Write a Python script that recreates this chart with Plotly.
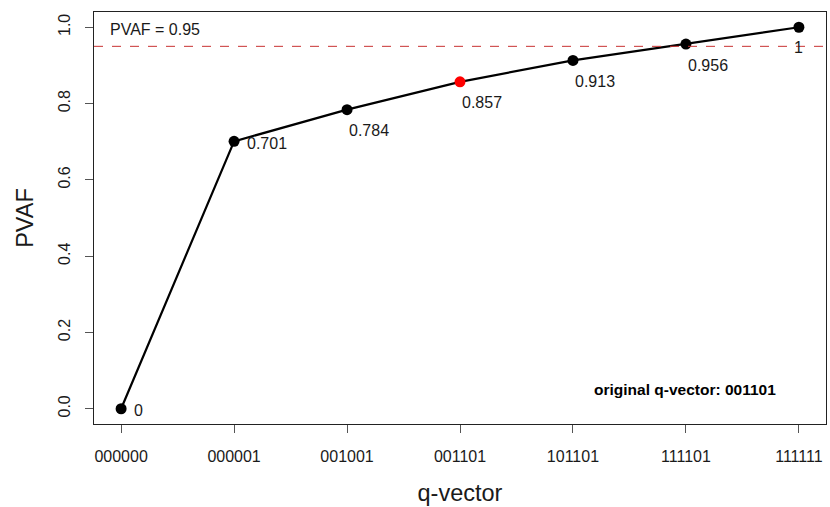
import plotly.graph_objects as go

# PVAF for each q-vector in the search path
q_vectors = ["000000", "000001", "001001", "001101", "101101", "111101", "111111"]
pvaf = [0.0, 0.701, 0.784, 0.857, 0.913, 0.956, 1.0]
value_labels = ["0", "0.701", "0.784", "0.857", "0.913", "0.956", "1"]
selected = "001101"
cutoff = 0.95

idx = list(range(len(q_vectors)))
marker_colors = ["#ff0000" if q == selected else "black" for q in q_vectors]

FONT = "Liberation Sans, Arial, sans-serif"
TXT = "#1a1a1a"

fig = go.Figure()

fig.add_trace(go.Scatter(
    x=idx, y=pvaf, mode="lines+markers",
    line=dict(color="black", width=2.2),
    marker=dict(size=11, color=marker_colors, line=dict(width=0)),
    hoverinfo="skip", showlegend=False,
))

# horizontal reference line at the cutoff
fig.add_shape(type="line", xref="paper", yref="y", x0=0, x1=1, y0=cutoff, y1=cutoff,
              line=dict(color="#c83232", width=1, dash="dash"))

# value labels beside / under each point
for i, (v, lab) in enumerate(zip(pvaf, value_labels)):
    if i < 2:
        xs, ys, xa = 11, -2, "left"
    elif i < len(pvaf) - 1:
        xs, ys, xa = 22, -21, "center"
    else:
        xs, ys, xa = 0, -20, "center"
    fig.add_annotation(x=i, y=v, text=lab, showarrow=False, xanchor=xa, yanchor="middle",
                       xshift=xs, yshift=ys, font=dict(family=FONT, size=16, color=TXT))

fig.add_annotation(xref="paper", yref="y", x=0.019, y=0.993, text=f"PVAF = {cutoff}",
                   showarrow=False, xanchor="left", yanchor="middle",
                   font=dict(family=FONT, size=16, color=TXT))

fig.add_annotation(xref="paper", yref="y", x=0.935, y=0.051,
                   text=f"<b>original q-vector: {selected}</b>",
                   showarrow=False, xanchor="right", yanchor="middle",
                   font=dict(family=FONT, size=15.5, color="black"))

fig.update_layout(
    width=830, height=507,
    margin=dict(l=94, r=4, t=12, b=83),
    paper_bgcolor="white", plot_bgcolor="white",
    font=dict(family=FONT, color=TXT),
    xaxis=dict(
        range=[-0.24, 6.24], tickmode="array", tickvals=idx, ticktext=q_vectors,
        showgrid=False, zeroline=False, showline=True, mirror=True,
        linecolor="#222", linewidth=1, ticks="outside", ticklen=8, tickcolor="#555",
        ticklabelstandoff=10,
        tickfont=dict(family=FONT, size=16, color=TXT),
        title=dict(text="q-vector", font=dict(family=FONT, size=23.5, color=TXT), standoff=20),
    ),
    yaxis=dict(
        range=[-0.04, 1.04], tickvals=[0, 0.2, 0.4, 0.6, 0.8, 1.0],
        ticktext=["0.0", "0.2", "0.4", "0.6", "0.8", "1.0"], tickangle=-90,
        showgrid=False, zeroline=False, showline=True, mirror=True,
        linecolor="#222", linewidth=1, ticks="outside", ticklen=8, tickcolor="#555",
        ticklabelstandoff=9,
        tickfont=dict(family=FONT, size=16, color=TXT),
        title=dict(text="PVAF", font=dict(family=FONT, size=23.5, color=TXT), standoff=15),
    ),
)

fig.write_html("out.html")
